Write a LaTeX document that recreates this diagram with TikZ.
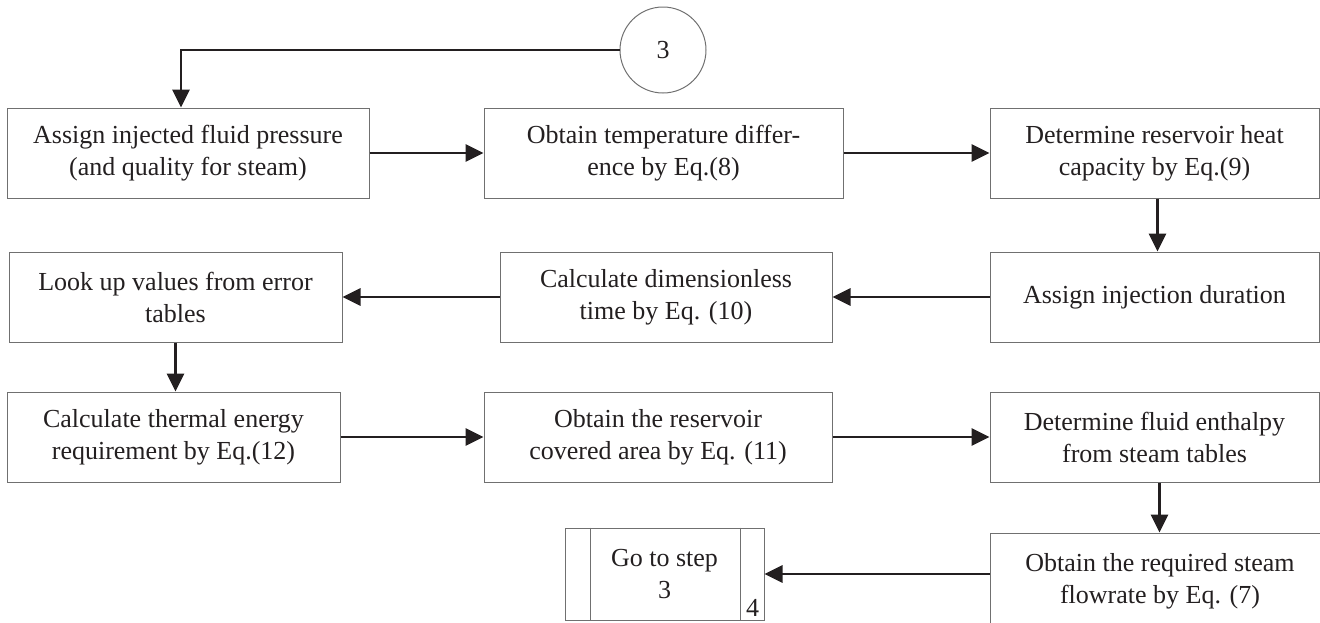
\documentclass[tikz,border=0pt]{standalone}
\usepackage{fontspec}
\setmainfont{Liberation Serif}
\usetikzlibrary{arrows.meta,calc}
\definecolor{boxgray}{RGB}{112,112,112}
\definecolor{inkblack}{RGB}{35,31,32}
\begin{document}
\begin{tikzpicture}[x=1pt,y=-1pt,
  stepbox/.style={draw=boxgray, line width=1pt, rectangle, minimum height=90pt,
    align=center, inner sep=0pt, text=inkblack,
    font=\fontsize{26}{32}\selectfont},
  flow/.style={draw=inkblack, line width=2.9pt,
    -{Triangle[length=18pt,width=17pt]}},
]
\useasboundingbox (0,0) rectangle (1320,622);
\clip (0,0) rectangle (1320,622);

% connector circle
\node[draw=boxgray, line width=1pt, circle, minimum size=86pt, inner sep=0pt,
  text=inkblack, font=\fontsize{26}{32}\selectfont] (circ) at (663,50) {3};

% first row
\node[stepbox, minimum width=362pt] (A) at (188,153)
  {Assign injected fluid pressure\\(and quality for steam)};
\node[stepbox, minimum width=359pt] (B) at (663.5,153)
  {Obtain temperature differ-\\ence by Eq.(8)};
\node[stepbox, minimum width=329pt] (C) at (1154.5,153)
  {Determine reservoir heat\\capacity by Eq.(9)};

% second row
\node[stepbox, minimum width=333pt] (D) at (175.5,297)
  {Look up values from error\\tables};
\node[stepbox, minimum width=332pt] (E) at (666,297)
  {Calculate dimensionless\\time by Eq. (10)};
\node[stepbox, minimum width=329pt] (F) at (1154.5,297)
  {Assign injection duration};

% third row
\node[stepbox, minimum width=333pt] (G) at (173.5,437)
  {Calculate thermal energy\\requirement by Eq.(12)};
\node[stepbox, minimum width=348pt] (H) at (658,437)
  {Obtain the reservoir\\covered area by Eq. (11)};
\node[stepbox, minimum width=329pt] (I) at (1154.5,437)
  {Determine fluid enthalpy\\from steam tables};

% last row
\node[stepbox, minimum width=340pt, minimum height=96pt] (J) at (1160,581)
  {Obtain the required steam\\flowrate by Eq. (7)};
\node[stepbox, minimum width=199pt, minimum height=92pt] (go) at (664.5,574)
  {Go to step\\3};
\draw[boxgray, line width=1pt]
  ([xshift=26pt]go.north west) -- ([xshift=26pt]go.south west)
  ([xshift=-24pt]go.north east) -- ([xshift=-24pt]go.south east);
\node[anchor=south, inner sep=0pt, text=inkblack,
  font=\fontsize{26}{32}\selectfont] (stepno) at ([xshift=-12pt,yshift=4pt]go.south east) {4};

% connectors
\coordinate (loopin) at ([xshift=-7pt]A.north);
\draw[flow] (circ.west) -| (loopin);
\draw[flow] (A) -- (B);
\draw[flow] (B) -- (C);
\draw[flow] ([xshift=3pt]C.south) -- ([xshift=3pt]C.south |- F.north);
\draw[flow] (F) -- (E);
\draw[flow] (E) -- (D);
\draw[flow] (D.south) -- (D.south |- G.north);
\draw[flow] (G) -- (H);
\draw[flow] (H) -- (I);
\draw[flow] ([xshift=5pt]I.south) -- ([xshift=5pt]I.south |- J.north);
\draw[flow] (J.west |- go.east) -- (go.east);
\end{tikzpicture}
\end{document}
